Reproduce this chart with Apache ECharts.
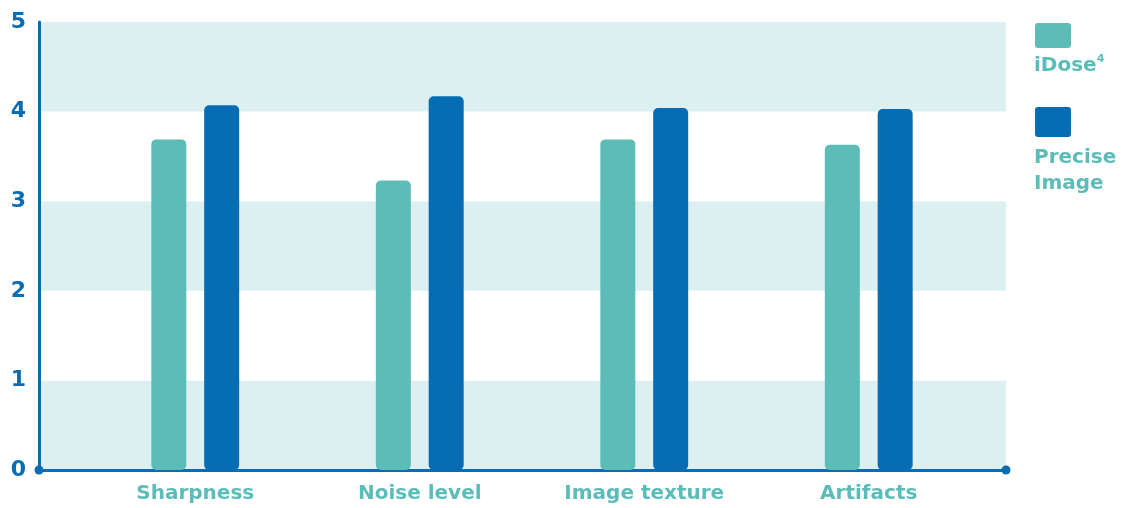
<!DOCTYPE html>
<html><head><meta charset="utf-8">
<script src="https://cdn.jsdelivr.net/npm/echarts@6/dist/echarts.min.js"></script>
<style>html,body{margin:0;padding:0;background:#fff}#c{width:1124px;height:508px}</style>
</head><body><div id="c"></div>
<script>
const categories = ['Sharpness', 'Noise level', 'Image texture', 'Artifacts'];
const seriesNames = ['iDose4', 'Precise Image'];
const iDoseValues = [3.69, 3.23, 3.69, 3.63];
const preciseValues = [4.07, 4.17, 4.04, 4.03];
const yTicks = [0, 1, 2, 3, 4, 5];

const TEAL = '#5cbcb8', BLUE = '#066cb3', BAND = '#dcf0f2', AXIS = '#0a6cb3';
const FONT = '"DejaVu Sans", sans-serif';
const chart = echarts.init(document.getElementById('c'));
chart.setOption({
  animation: false,
  legend: [{
    data: [seriesNames[0]], left: 1035, top: 23, padding: 0, itemWidth: 36, itemHeight: 25,
    icon: 'path://M3,0 L33,0 Q36,0 36,3 L36,22 Q36,25 33,25 L3,25 Q0,25 0,22 L0,3 Q0,0 3,0 Z',
    formatter: () => '', selectedMode: false
  }, {
    data: [seriesNames[1]], left: 1035, top: 107, padding: 0, itemWidth: 36, itemHeight: 30,
    icon: 'path://M3,0 L33,0 Q36,0 36,3 L36,27 Q36,30 33,30 L3,30 Q0,30 0,27 L0,3 Q0,0 3,0 Z',
    formatter: () => '', selectedMode: false
  }],
  graphic: [
    { type: 'text', left: 1034, top: 54, style: { rich: { a: { fontFamily: FONT, fontWeight: 700, fontSize: 20, fill: TEAL, lineHeight: 24 }, s: { fontFamily: FONT, fontWeight: 700, fontSize: 11, fill: TEAL, verticalAlign: 'top', lineHeight: 14 } }, text: '{a|iDose}{s|4}' } },
    { type: 'text', left: 1034, top: 145, style: { text: 'Precise\nImage', fontFamily: FONT, fontWeight: 700, fontSize: 20, lineHeight: 26, fill: TEAL } }
  ],
  grid: [
    { left: 39, right: 118, top: 22, bottom: 38 },
    { left: 83, right: 143, top: 22, bottom: 38 }
  ],
  xAxis: [{
    gridIndex: 0, type: 'category', data: categories, boundaryGap: true,
    axisLine: { show: true, lineStyle: { color: AXIS, width: 3 }, symbol: ['circle', 'circle'], symbolSize: [9, 9] },
    axisTick: { show: false }, axisLabel: { show: false }, splitLine: { show: false }
  }, {
    gridIndex: 1, type: 'category', data: categories,
    axisLine: { show: false }, axisTick: { show: false },
    axisLabel: { margin: 14, color: TEAL, fontFamily: FONT, fontWeight: 700, fontSize: 20 }
  }],
  yAxis: [{
    gridIndex: 0, type: 'value', min: yTicks[0], max: yTicks[yTicks.length - 1], interval: 1,
    axisLine: { show: true, lineStyle: { color: AXIS, width: 3 } },
    axisTick: { show: false },
    axisLabel: { margin: 13, color: AXIS, fontFamily: FONT, fontWeight: 700, fontSize: 22 },
    splitLine: { show: false },
    splitArea: { show: true, areaStyle: { color: [BAND, '#ffffff'] } }
  }, {
    gridIndex: 1, type: 'value', min: yTicks[0], max: yTicks[yTicks.length - 1], interval: 1, show: false
  }],
  series: [{
    name: seriesNames[0], type: 'bar', xAxisIndex: 1, yAxisIndex: 1, data: iDoseValues,
    barWidth: 35, barGap: '51%', itemStyle: { color: TEAL, borderRadius: 5 }, z: 3
  }, {
    name: seriesNames[1], type: 'bar', xAxisIndex: 1, yAxisIndex: 1, data: preciseValues,
    barWidth: 35, barGap: '51%', itemStyle: { color: BLUE, borderRadius: 5 }, z: 3
  }]
});
</script></body></html>
